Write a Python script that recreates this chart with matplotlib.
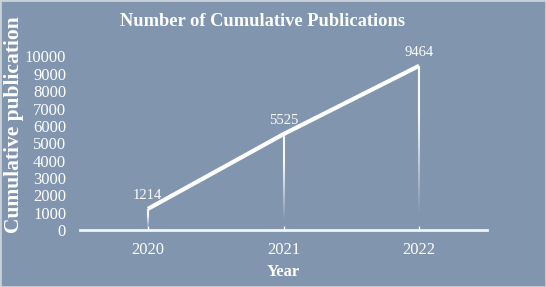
import numpy as np
import matplotlib
matplotlib.use("Agg")
import matplotlib.pyplot as plt
from matplotlib.collections import LineCollection
from matplotlib.patches import Rectangle

years = ["2020", "2021", "2022"]
values = [1214, 5525, 9464]
yticks = list(range(0, 10001, 1000))

bg = "#8195ae"
plt.rcParams['font.family'] = ['Liberation Serif', 'DejaVu Serif']

fig = plt.figure(figsize=(5.46, 2.87), dpi=100, facecolor=bg)
fig.patches.append(Rectangle((0, 0), 1, 1, transform=fig.transFigure,
                             fill=False, edgecolor="#c9d0da", linewidth=2.0))
ax = fig.add_axes([80/546, 1 - 230/287, (487-80)/546, (230-56.5)/287])
ax.set_facecolor(bg)
x = np.arange(len(years))

# fading drop lines
for xi, v in zip(x, values):
    n = 60
    ys = np.linspace(0, v, n + 1)
    segs = [[(xi, ys[i]), (xi, ys[i + 1])] for i in range(n)]
    frac = (ys[:-1] + ys[1:]) / 2 / v
    alphas = np.clip((frac - 0.1) / 0.6, 0, 1) * 0.95
    cols = [(1, 1, 1, a) for a in alphas]
    ax.add_collection(LineCollection(segs, colors=cols, linewidths=1.5, zorder=2))

ax.plot(x, values, color="white", linewidth=3.0, solid_capstyle="butt", zorder=3)
for xi, v in zip(x, values):
    ax.annotate(f"{v}", (xi, v), xytext=(0, 5), textcoords="offset points",
                ha="center", va="bottom", color="white", fontsize=10.5)

ax.set_xlim(-0.5, 2.5)
ax.set_ylim(0, 10000)
ax.set_xticks(x)
ax.set_xticklabels(years, color="white", fontsize=12)
ax.set_yticks(yticks)
ax.set_yticklabels([str(t) for t in yticks], color="white", fontsize=12)
ax.tick_params(axis="y", length=0, pad=10)
ax.tick_params(axis="x", length=3, color="white", width=1, direction="in", pad=9)
for s in ["top", "right", "left"]:
    ax.spines[s].set_visible(False)
ax.spines["bottom"].set_color("#f2f4f8")
ax.spines["bottom"].set_linewidth(2)

ax.set_xlabel("Year", color="white", fontsize=12, fontweight="bold", labelpad=4)
fig.text(14/546, 1 - 125/287, "Cumulative publication", rotation=90,
         ha="center", va="center", color="white", fontsize=15.5, fontweight="bold")
fig.text(263/546, 1 - 21/287, "Number of Cumulative Publications", ha="center",
         va="center", color="white", fontsize=13.3, fontweight="bold")

fig.savefig("out.png", dpi=100, facecolor=bg)
